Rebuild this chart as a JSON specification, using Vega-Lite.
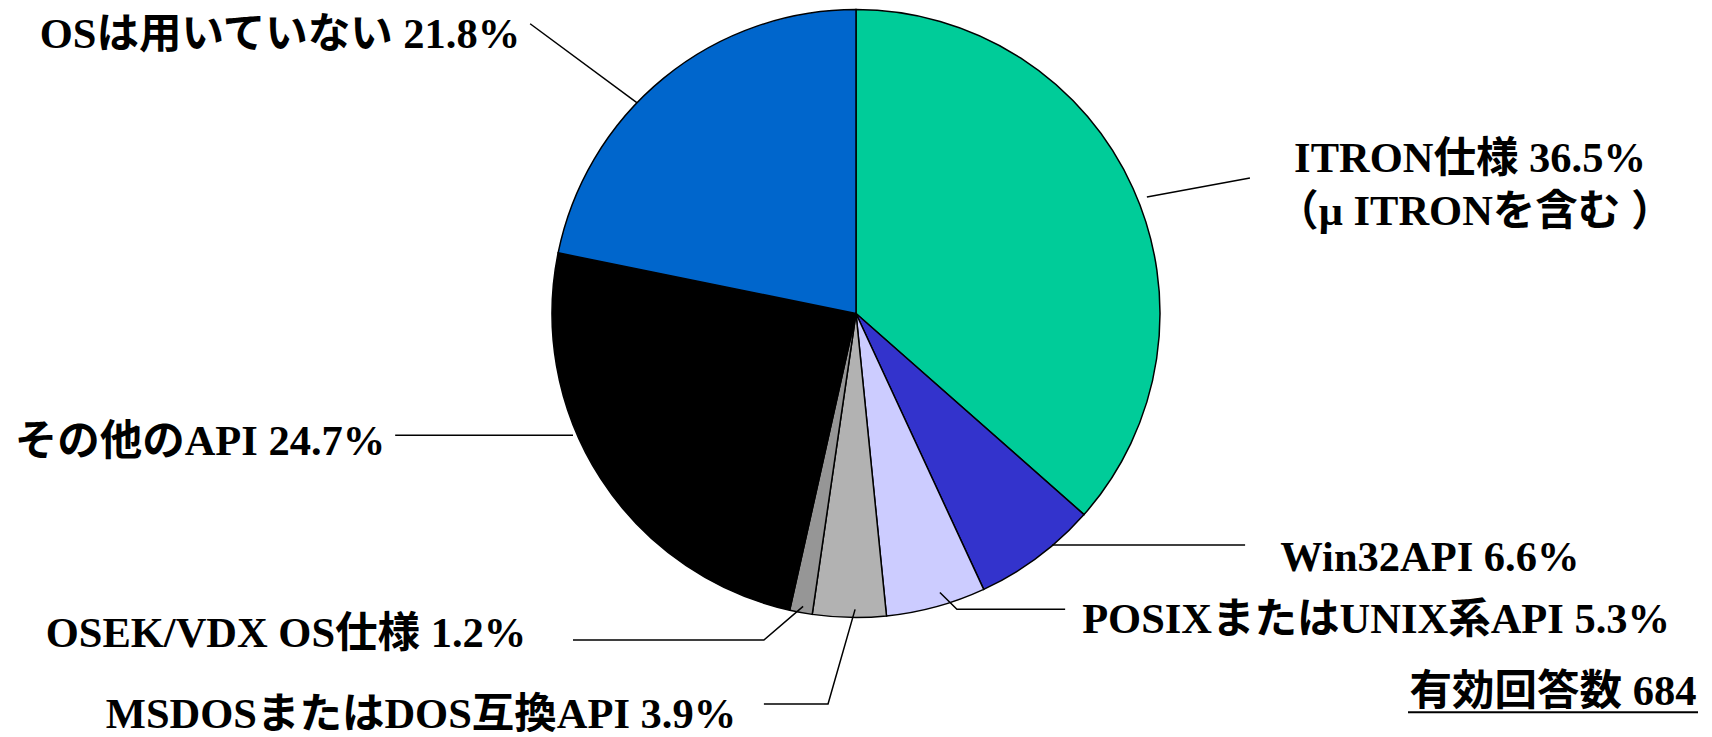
{
  "$schema": "https://vega.github.io/schema/vega-lite/v6.json",
  "width": 1712,
  "height": 737,
  "autosize": {"type": "fit", "contains": "padding"},
  "padding": 0,
  "background": "white",
  "config": {"view": {"stroke": null}},
  "datasets": {
    "slices": [
      {"name": "ITRON仕様", "value": 36.5, "order": 1},
      {"name": "Win32API", "value": 6.6, "order": 2},
      {"name": "POSIXまたはUNIX系API", "value": 5.3, "order": 3},
      {"name": "MSDOSまたはDOS互換API", "value": 3.9, "order": 4},
      {"name": "OSEK/VDX OS仕様", "value": 1.2, "order": 5},
      {"name": "その他のAPI", "value": 24.7, "order": 6},
      {"name": "OSは用いていない", "value": 21.8, "order": 7}
    ],
    "labels": [
      {"text": "OSは用いていない 21.8%", "x": -189.5, "y": 93.4},
      {"text": "ITRON仕様 36.5%", "x": 202.0, "y": 52.0},
      {"text": "（μ ITRONを含む ）", "x": 203.6, "y": 34.5},
      {"text": "その他のAPI 24.7%", "x": -215.8, "y": -42.1},
      {"text": "Win32API 6.6%", "x": 188.8, "y": -80.6},
      {"text": "POSIXまたはUNIX系API 5.3%", "x": 171.1, "y": -101.2},
      {"text": "OSEK/VDX OS仕様 1.2%", "x": -187.5, "y": -105.9},
      {"text": "MSDOSまたはDOS互換API 3.9%", "x": -143.1, "y": -132.8},
      {"text": "有効回答数 684", "x": 229.3, "y": -125.3}
    ],
    "leaders": [
      {"id": "none", "i": 1, "x": -107.2, "y": 96.4},
      {"id": "none", "i": 2, "x": -72.0, "y": 70.1},
      {"id": "itron", "i": 1, "x": 95.7, "y": 38.8},
      {"id": "itron", "i": 2, "x": 129.6, "y": 45.1},
      {"id": "win32", "i": 1, "x": 64.5, "y": -77.0},
      {"id": "win32", "i": 2, "x": 128.0, "y": -77.0},
      {"id": "posix", "i": 1, "x": 27.6, "y": -92.8},
      {"id": "posix", "i": 2, "x": 33.2, "y": -98.4},
      {"id": "posix", "i": 3, "x": 68.8, "y": -98.4},
      {"id": "msdos", "i": 1, "x": -0.3, "y": -98.4},
      {"id": "msdos", "i": 2, "x": -9.2, "y": -129.9},
      {"id": "msdos", "i": 3, "x": -30.3, "y": -129.9},
      {"id": "osek", "i": 1, "x": -17.4, "y": -97.4},
      {"id": "osek", "i": 2, "x": -30.3, "y": -108.6},
      {"id": "osek", "i": 3, "x": -93.1, "y": -108.6},
      {"id": "other", "i": 1, "x": -151.6, "y": -40.5},
      {"id": "other", "i": 2, "x": -93.1, "y": -40.5}
    ],
    "underline": [
      {"x": 181.6, "x2": 277.0, "y": -132.6}
    ]
  },
  "layer": [
    {
      "data": {"name": "slices"},
      "mark": {"type": "arc", "outerRadius": 304, "stroke": "black", "strokeWidth": 1.5},
      "encoding": {
        "x": {"datum": 0, "type": "quantitative", "scale": {"domain": [-281.6, 281.6], "nice": false, "zero": false}, "axis": null},
        "y": {"datum": 0, "type": "quantitative", "scale": {"domain": [-138.2, 104.3], "nice": false, "zero": false}, "axis": null},
        "theta": {"field": "value", "type": "quantitative", "stack": true},
        "order": {"field": "order", "type": "quantitative"},
        "color": {
          "field": "name", "type": "nominal", "legend": null,
          "scale": {
            "domain": ["ITRON仕様", "Win32API", "POSIXまたはUNIX系API", "MSDOSまたはDOS互換API", "OSEK/VDX OS仕様", "その他のAPI", "OSは用いていない"],
            "range": ["#00CC99", "#3333CC", "#CCCCFF", "#B2B2B2", "#969696", "#000000", "#0066CC"]
          }
        }
      }
    },
    {
      "data": {"name": "leaders"},
      "mark": {"type": "line", "color": "black", "strokeWidth": 1.5},
      "encoding": {
        "x": {"field": "x", "type": "quantitative", "scale": {"domain": [-281.6, 281.6], "nice": false, "zero": false}, "axis": null},
        "y": {"field": "y", "type": "quantitative", "scale": {"domain": [-138.2, 104.3], "nice": false, "zero": false}, "axis": null},
        "detail": {"field": "id", "type": "nominal"},
        "order": {"field": "i", "type": "quantitative"}
      }
    },
    {
      "data": {"name": "labels"},
      "mark": {"type": "text", "font": "Liberation Serif, Noto Sans CJK JP", "fontWeight": "bold", "fontSize": 42.5, "align": "center", "baseline": "middle", "dy": 2, "color": "black"},
      "encoding": {
        "x": {"field": "x", "type": "quantitative", "scale": {"domain": [-281.6, 281.6], "nice": false, "zero": false}, "axis": null},
        "y": {"field": "y", "type": "quantitative", "scale": {"domain": [-138.2, 104.3], "nice": false, "zero": false}, "axis": null},
        "text": {"field": "text", "type": "nominal"}
      }
    },
    {
      "data": {"name": "underline"},
      "mark": {"type": "rule", "color": "black", "strokeWidth": 2},
      "encoding": {
        "x": {"field": "x", "type": "quantitative", "scale": {"domain": [-281.6, 281.6], "nice": false, "zero": false}, "axis": null},
        "x2": {"field": "x2"},
        "y": {"field": "y", "type": "quantitative", "scale": {"domain": [-138.2, 104.3], "nice": false, "zero": false}, "axis": null}
      }
    }
  ]
}
